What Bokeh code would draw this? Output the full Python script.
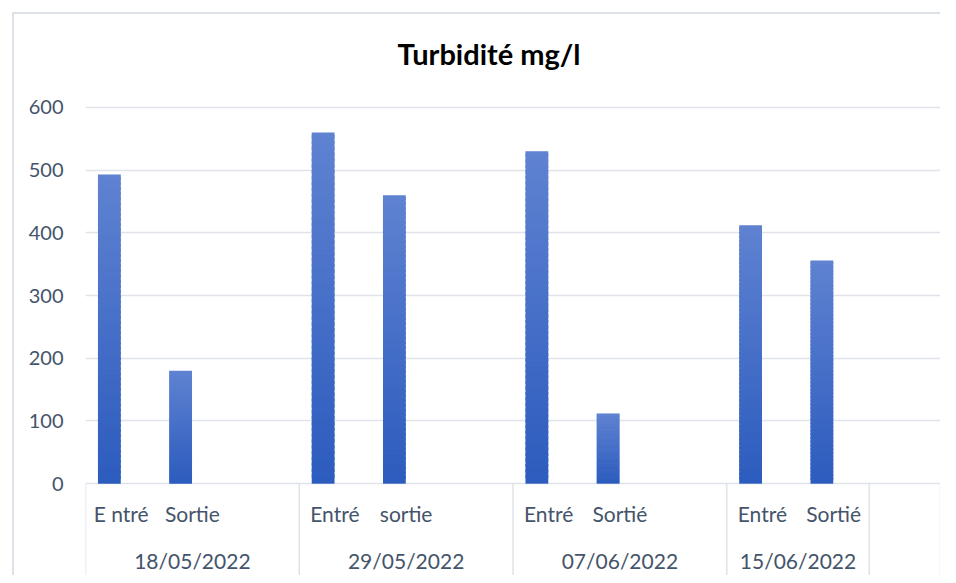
from bokeh.plotting import figure
from bokeh.models import FactorRange, Range1d, ColumnDataSource, FixedTicker, InlineStyleSheet
from bokeh.core.properties import value
from bokeh.embed import file_html
from bokeh.resources import INLINE

# ---- data ----
dates = ["18/05/2022", "29/05/2022", "07/06/2022", "15/06/2022"]
entry_labels = ["E ntré", "Entré", "Entré", "Entré"]
exit_labels = ["Sortie", "sortie", "Sortié", "Sortié"]
entry_values = [493, 560, 530, 412]
exit_values = [180, 460, 112, 356]
blank_slot_in_group = [True, True, True, False]   # empty third category in the group
trailing_group = " "                              # empty category group at the right end
y_ticks = [0, 100, 200, 300, 400, 500, 600]

TEXT = "#44546a"
GRID = "#e0e4ea"
FONT = "Lato"
Y_LOW, Y_HIGH = -146.4, 651.0

# ---- categorical structure ----
factors = []
for i, d in enumerate(dates):
    factors.append((d, entry_labels[i]))
    factors.append((d, exit_labels[i]))
    if blank_slot_in_group[i]:
        factors.append((d, " "))
factors.append((trailing_group, " "))

x_range = FactorRange(factors=factors, range_padding=0, group_padding=0,
                      subgroup_padding=0, factor_padding=0)

p = figure(x_range=x_range, y_range=Range1d(Y_LOW, Y_HIGH),
           width=940, height=575, output_backend="svg", toolbar_location=None,
           x_axis_location=None, title="Turbidité mg/l",
           min_border_left=85, min_border_right=0, min_border_top=75, min_border_bottom=0)
p.outline_line_color = None
p.background_fill_color = "white"
p.border_fill_color = "white"
for g in p.xgrid:
    g.visible = False

p.title.text_font = FONT
p.title.text_font_size = "29px"
p.title.text_font_style = "bold"
p.title.text_color = "#000000"
p.title.align = "left"
p.title.offset = 312

p.yaxis.ticker = FixedTicker(ticks=y_ticks)
p.yaxis.axis_line_color = None
p.yaxis.major_tick_line_color = None
p.yaxis.minor_tick_line_color = None
p.yaxis.major_tick_out = 0
p.yaxis.major_tick_in = 0
p.yaxis.major_label_standoff = 22
p.yaxis.major_label_text_font = FONT
p.yaxis.major_label_text_font_size = "20px"
p.yaxis.major_label_text_color = TEXT
p.ygrid.ticker = FixedTicker(ticks=y_ticks)
p.ygrid.grid_line_color = GRID
p.ygrid.grid_line_width = 1.6

# ---- gradient bars (light top, dark bottom), built as thin slices ----
top_rgb = (95, 130, 209)
bot_rgb = (44, 92, 190)
N = 60
xs, bots, tops, cols = [], [], [], []
for i, d in enumerate(dates):
    for lab, v in ((entry_labels[i], entry_values[i]), (exit_labels[i], exit_values[i])):
        for k in range(N):
            t = k / (N - 1)
            c = tuple(int(round(b + (a - b) * t)) for a, b in zip(top_rgb, bot_rgb))
            xs.append((d, lab, -0.165))
            bots.append(v * k / N)
            tops.append(min(v, v * (k + 1.6) / N))
            cols.append("#%02x%02x%02x" % c)
bars = ColumnDataSource(dict(x=xs, bottom=bots, top=tops, color=cols))
p.vbar(x="x", bottom="bottom", top="top", width=0.32, source=bars,
       fill_color="color", line_color=None)

# ---- category axis drawn inside the extended frame ----
sep_x = [(dates[0], entry_labels[0], -0.5)]
for i, d in enumerate(dates):
    last = " " if blank_slot_in_group[i] else exit_labels[i]
    sep_x.append((d, last, 0.5))
sep_x.append((trailing_group, " ", 0.5))
p.segment(x0=sep_x, x1=sep_x, y0=[0] * len(sep_x), y1=[Y_LOW] * len(sep_x),
          line_color=GRID, line_width=1.6)

sub_x, sub_t = [], []
for i, d in enumerate(dates):
    sub_x += [(d, entry_labels[i]), (d, exit_labels[i])]
    sub_t += [entry_labels[i], exit_labels[i]]
p.text(x=sub_x, y=[-47.5] * len(sub_x), text=sub_t, text_font=value(FONT),
       text_font_size="21px", text_color=TEXT, text_align="center",
       text_baseline="alphabetic")
p.text(x=dates, y=[-122.2] * len(dates), text=dates, text_font=value(FONT),
       text_font_size="21px", text_color=TEXT, text_align="center",
       text_baseline="alphabetic")

# ---- chart border (top and left edges visible in the reference) ----
p.stylesheets = [InlineStyleSheet(css="""
:host { position: relative; }
:host::after {
  content: ""; position: absolute; left: 12px; top: 12px; right: 0; bottom: 0;
  border-left: 2px solid #dde2e9; border-top: 2px solid #dde2e9;
  pointer-events: none;
}
""")]

open("out.html", "w").write(file_html(p, INLINE))
